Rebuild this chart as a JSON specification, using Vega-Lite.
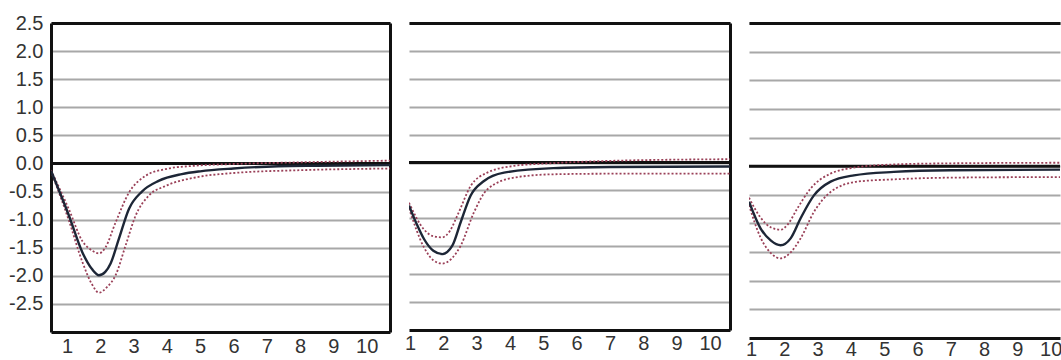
{
  "$schema": "https://vega.github.io/schema/vega-lite/v6.json",
  "padding": {"left": 8, "top": 13, "right": 0, "bottom": 0},
  "background": "white",
  "config": {
    "locale": {"number": {"decimal": ".", "thousands": ",", "grouping": [3], "currency": ["$", ""], "minus": "-"}},
    "view": {"stroke": null},
    "font": "Liberation Sans",
    "axis": {"labelFont": "Liberation Sans", "labelFontSize": 20, "labelColor": "#333333", "ticks": false, "title": null, "domainColor": "#111111", "domainWidth": 3, "gridColor": "#a8a8a8", "gridWidth": 2, "gridOpacity": 1}
  },
  "bounds": "flush",
  "spacing": 19,
  "datasets": {
    "p1": [
      {"x": 0.52, "y": -0.13, "s": "IRF"}, {"x": 1.06, "y": -0.93, "s": "IRF"}, {"x": 1.46, "y": -1.58, "s": "IRF"}, {"x": 1.75, "y": -1.88, "s": "IRF"}, {"x": 1.96, "y": -1.99, "s": "IRF"}, {"x": 2.15, "y": -1.93, "s": "IRF"}, {"x": 2.31, "y": -1.78, "s": "IRF"}, {"x": 2.56, "y": -1.34, "s": "IRF"}, {"x": 2.86, "y": -0.81, "s": "IRF"}, {"x": 3.25, "y": -0.5, "s": "IRF"}, {"x": 3.75, "y": -0.31, "s": "IRF"}, {"x": 4.45, "y": -0.19, "s": "IRF"}, {"x": 5.0, "y": -0.14, "s": "IRF"}, {"x": 6.0, "y": -0.09, "s": "IRF"}, {"x": 7.35, "y": -0.05, "s": "IRF"}, {"x": 8.5, "y": -0.04, "s": "IRF"}, {"x": 10.7, "y": -0.03, "s": "IRF"},
      {"x": 0.52, "y": -0.12, "s": "Upper"}, {"x": 1.06, "y": -0.82, "s": "Upper"}, {"x": 1.46, "y": -1.38, "s": "Upper"}, {"x": 1.75, "y": -1.55, "s": "Upper"}, {"x": 1.96, "y": -1.6, "s": "Upper"}, {"x": 2.15, "y": -1.5, "s": "Upper"}, {"x": 2.46, "y": -1.05, "s": "Upper"}, {"x": 2.86, "y": -0.52, "s": "Upper"}, {"x": 3.36, "y": -0.22, "s": "Upper"}, {"x": 3.96, "y": -0.1, "s": "Upper"}, {"x": 4.85, "y": -0.04, "s": "Upper"}, {"x": 6.0, "y": -0.01, "s": "Upper"}, {"x": 8.0, "y": 0.02, "s": "Upper"}, {"x": 10.7, "y": 0.05, "s": "Upper"},
      {"x": 0.52, "y": -0.14, "s": "Lower"}, {"x": 1.06, "y": -1.02, "s": "Lower"}, {"x": 1.46, "y": -1.75, "s": "Lower"}, {"x": 1.75, "y": -2.15, "s": "Lower"}, {"x": 1.96, "y": -2.3, "s": "Lower"}, {"x": 2.2, "y": -2.2, "s": "Lower"}, {"x": 2.46, "y": -1.99, "s": "Lower"}, {"x": 2.76, "y": -1.46, "s": "Lower"}, {"x": 3.06, "y": -0.93, "s": "Lower"}, {"x": 3.46, "y": -0.57, "s": "Lower"}, {"x": 3.96, "y": -0.4, "s": "Lower"}, {"x": 4.85, "y": -0.25, "s": "Lower"}, {"x": 6.0, "y": -0.17, "s": "Lower"}, {"x": 8.0, "y": -0.12, "s": "Lower"}, {"x": 10.7, "y": -0.09, "s": "Lower"}
    ],
    "p2": [
      {"x": 0.97, "y": -0.77, "s": "IRF"}, {"x": 1.2, "y": -1.1, "s": "IRF"}, {"x": 1.42, "y": -1.37, "s": "IRF"}, {"x": 1.7, "y": -1.58, "s": "IRF"}, {"x": 1.97, "y": -1.64, "s": "IRF"}, {"x": 2.27, "y": -1.49, "s": "IRF"}, {"x": 2.52, "y": -1.07, "s": "IRF"}, {"x": 2.82, "y": -0.59, "s": "IRF"}, {"x": 3.22, "y": -0.33, "s": "IRF"}, {"x": 3.82, "y": -0.18, "s": "IRF"}, {"x": 5.3, "y": -0.1, "s": "IRF"}, {"x": 7.0, "y": -0.08, "s": "IRF"}, {"x": 10.6, "y": -0.07, "s": "IRF"},
      {"x": 0.97, "y": -0.72, "s": "Upper"}, {"x": 1.42, "y": -1.2, "s": "Upper"}, {"x": 1.7, "y": -1.32, "s": "Upper"}, {"x": 1.97, "y": -1.34, "s": "Upper"}, {"x": 2.2, "y": -1.22, "s": "Upper"}, {"x": 2.42, "y": -0.95, "s": "Upper"}, {"x": 2.82, "y": -0.42, "s": "Upper"}, {"x": 3.32, "y": -0.18, "s": "Upper"}, {"x": 4.12, "y": -0.06, "s": "Upper"}, {"x": 5.32, "y": -0.01, "s": "Upper"}, {"x": 7.0, "y": 0.03, "s": "Upper"}, {"x": 10.6, "y": 0.06, "s": "Upper"},
      {"x": 0.97, "y": -0.82, "s": "Lower"}, {"x": 1.42, "y": -1.52, "s": "Lower"}, {"x": 1.7, "y": -1.75, "s": "Lower"}, {"x": 1.97, "y": -1.81, "s": "Lower"}, {"x": 2.25, "y": -1.72, "s": "Lower"}, {"x": 2.52, "y": -1.49, "s": "Lower"}, {"x": 2.92, "y": -0.89, "s": "Lower"}, {"x": 3.32, "y": -0.48, "s": "Lower"}, {"x": 4.12, "y": -0.27, "s": "Lower"}, {"x": 5.32, "y": -0.21, "s": "Lower"}, {"x": 7.0, "y": -0.2, "s": "Lower"}, {"x": 10.6, "y": -0.2, "s": "Lower"}
    ],
    "p3": [
      {"x": 0.94, "y": -0.62, "s": "IRF"}, {"x": 1.29, "y": -1.09, "s": "IRF"}, {"x": 1.6, "y": -1.3, "s": "IRF"}, {"x": 1.89, "y": -1.38, "s": "IRF"}, {"x": 2.19, "y": -1.26, "s": "IRF"}, {"x": 2.49, "y": -0.91, "s": "IRF"}, {"x": 2.89, "y": -0.51, "s": "IRF"}, {"x": 3.39, "y": -0.27, "s": "IRF"}, {"x": 4.09, "y": -0.16, "s": "IRF"}, {"x": 5.29, "y": -0.1, "s": "IRF"}, {"x": 7.0, "y": -0.07, "s": "IRF"}, {"x": 10.28, "y": -0.06, "s": "IRF"},
      {"x": 0.94, "y": -0.55, "s": "Upper"}, {"x": 1.29, "y": -0.9, "s": "Upper"}, {"x": 1.6, "y": -1.07, "s": "Upper"}, {"x": 1.89, "y": -1.11, "s": "Upper"}, {"x": 2.1, "y": -1.02, "s": "Upper"}, {"x": 2.39, "y": -0.74, "s": "Upper"}, {"x": 2.79, "y": -0.39, "s": "Upper"}, {"x": 3.39, "y": -0.13, "s": "Upper"}, {"x": 4.29, "y": -0.01, "s": "Upper"}, {"x": 5.29, "y": 0.03, "s": "Upper"}, {"x": 7.0, "y": 0.05, "s": "Upper"}, {"x": 10.28, "y": 0.06, "s": "Upper"},
      {"x": 0.94, "y": -0.68, "s": "Lower"}, {"x": 1.29, "y": -1.25, "s": "Lower"}, {"x": 1.6, "y": -1.52, "s": "Lower"}, {"x": 1.89, "y": -1.61, "s": "Lower"}, {"x": 2.2, "y": -1.5, "s": "Lower"}, {"x": 2.49, "y": -1.26, "s": "Lower"}, {"x": 2.89, "y": -0.8, "s": "Lower"}, {"x": 3.39, "y": -0.45, "s": "Lower"}, {"x": 4.19, "y": -0.27, "s": "Lower"}, {"x": 5.29, "y": -0.23, "s": "Lower"}, {"x": 7.0, "y": -0.2, "s": "Lower"}, {"x": 10.28, "y": -0.19, "s": "Lower"}
    ],
    "zero": [{"level": 0}]
  },
  "hconcat": [
    {
      "width": 339, "height": 309,
      "resolve": {"axis": {"x": "independent", "y": "independent"}},
      "layer": [
        {
          "data": {"name": "zero"},
          "mark": {"type": "rule", "color": "#111111", "strokeWidth": 3},
          "encoding": {
            "y": {"field": "level", "type": "quantitative", "axis": {"orient": "right", "labels": false, "grid": false, "domain": true}},
            "x": {"datum": 0.52, "type": "quantitative", "axis": {"orient": "top", "labels": false, "grid": false, "domain": true}},
            "x2": {"datum": 10.7}
          }
        },
        {
          "data": {"name": "p1"},
          "transform": [{"filter": "datum.s != 'IRF'"}],
          "mark": {"type": "line", "interpolate": "monotone", "clip": true, "color": "#9a4058", "strokeWidth": 1.8, "strokeDash": [2, 2]},
          "encoding": {
            "x": {"field": "x", "type": "quantitative", "axis": null},
            "y": {"field": "y", "type": "quantitative", "axis": null},
            "detail": {"field": "s"}
          }
        },
        {
          "data": {"name": "p1"},
          "transform": [{"filter": "datum.s == 'IRF'"}],
          "mark": {"type": "line", "interpolate": "monotone", "clip": true, "color": "#1d2636", "strokeWidth": 2.4},
          "encoding": {
            "x": {"field": "x", "type": "quantitative", "scale": {"domain": [0.52, 10.7], "nice": false, "zero": false}, "axis": {"orient": "bottom", "values": [1, 2, 3, 4, 5, 6, 7, 8, 9, 10], "grid": false, "labelPadding": 4, "labelOverlap": false}},
            "y": {"field": "y", "type": "quantitative", "scale": {"domain": [-3, 2.5], "nice": false, "zero": false}, "axis": {"orient": "left", "values": [-2.5, -2, -1.5, -1, -0.5, 0, 0.5, 1, 1.5, 2, 2.5], "format": ".1f", "grid": true, "labelPadding": 8, "labelOverlap": false}}
          }
        }
      ]
    },
    {
      "width": 321, "height": 307,
      "resolve": {"axis": {"x": "independent", "y": "independent"}},
      "layer": [
        {
          "data": {"name": "zero"},
          "mark": {"type": "rule", "color": "#111111", "strokeWidth": 3},
          "encoding": {
            "y": {"field": "level", "type": "quantitative", "axis": {"orient": "right", "labels": false, "grid": false, "domain": true}},
            "x": {"datum": 0.97, "type": "quantitative", "axis": {"orient": "top", "labels": false, "grid": false, "domain": true}},
            "x2": {"datum": 10.6}
          }
        },
        {
          "data": {"name": "p2"},
          "transform": [{"filter": "datum.s != 'IRF'"}],
          "mark": {"type": "line", "interpolate": "monotone", "clip": true, "color": "#9a4058", "strokeWidth": 1.8, "strokeDash": [2, 2]},
          "encoding": {
            "x": {"field": "x", "type": "quantitative", "axis": null},
            "y": {"field": "y", "type": "quantitative", "axis": null},
            "detail": {"field": "s"}
          }
        },
        {
          "data": {"name": "p2"},
          "transform": [{"filter": "datum.s == 'IRF'"}],
          "mark": {"type": "line", "interpolate": "monotone", "clip": true, "color": "#1d2636", "strokeWidth": 2.4},
          "encoding": {
            "x": {"field": "x", "type": "quantitative", "scale": {"domain": [0.97, 10.6], "nice": false, "zero": false}, "axis": {"orient": "bottom", "values": [1, 2, 3, 4, 5, 6, 7, 8, 9, 10], "grid": false, "labelPadding": 3, "labelOverlap": false}},
            "y": {"field": "y", "type": "quantitative", "scale": {"domain": [-3, 2.5], "nice": false, "zero": false}, "axis": {"orient": "left", "values": [-2.5, -2, -1.5, -1, -0.5, 0, 0.5, 1, 1.5, 2, 2.5], "labels": false, "domain": false, "grid": true}}
          }
        }
      ]
    },
    {
      "width": 311, "height": 315,
      "resolve": {"axis": {"x": "independent", "y": "independent"}},
      "layer": [
        {
          "data": {"name": "zero"},
          "mark": {"type": "rule", "color": "#111111", "strokeWidth": 3},
          "encoding": {
            "y": {"field": "level", "type": "quantitative", "axis": null},
            "x": {"datum": 0.94, "type": "quantitative", "axis": {"orient": "top", "labels": false, "grid": false, "domain": true}},
            "x2": {"datum": 10.28}
          }
        },
        {
          "data": {"name": "p3"},
          "transform": [{"filter": "datum.s != 'IRF'"}],
          "mark": {"type": "line", "interpolate": "monotone", "clip": true, "color": "#9a4058", "strokeWidth": 1.8, "strokeDash": [2, 2]},
          "encoding": {
            "x": {"field": "x", "type": "quantitative", "axis": null},
            "y": {"field": "y", "type": "quantitative", "axis": null},
            "detail": {"field": "s"}
          }
        },
        {
          "data": {"name": "p3"},
          "transform": [{"filter": "datum.s == 'IRF'"}],
          "mark": {"type": "line", "interpolate": "monotone", "clip": true, "color": "#1d2636", "strokeWidth": 2.4},
          "encoding": {
            "x": {"field": "x", "type": "quantitative", "scale": {"domain": [0.94, 10.28], "nice": false, "zero": false}, "axis": {"orient": "bottom", "values": [1, 2, 3, 4, 5, 6, 7, 8, 9, 10], "grid": false, "labelPadding": 1, "labelOverlap": false}},
            "y": {"field": "y", "type": "quantitative", "scale": {"domain": [-3, 2.5], "nice": false, "zero": false}, "axis": {"orient": "left", "values": [-2.5, -2, -1.5, -1, -0.5, 0, 0.5, 1, 1.5, 2, 2.5], "labels": false, "domain": false, "grid": true}}
          }
        }
      ]
    }
  ]
}
